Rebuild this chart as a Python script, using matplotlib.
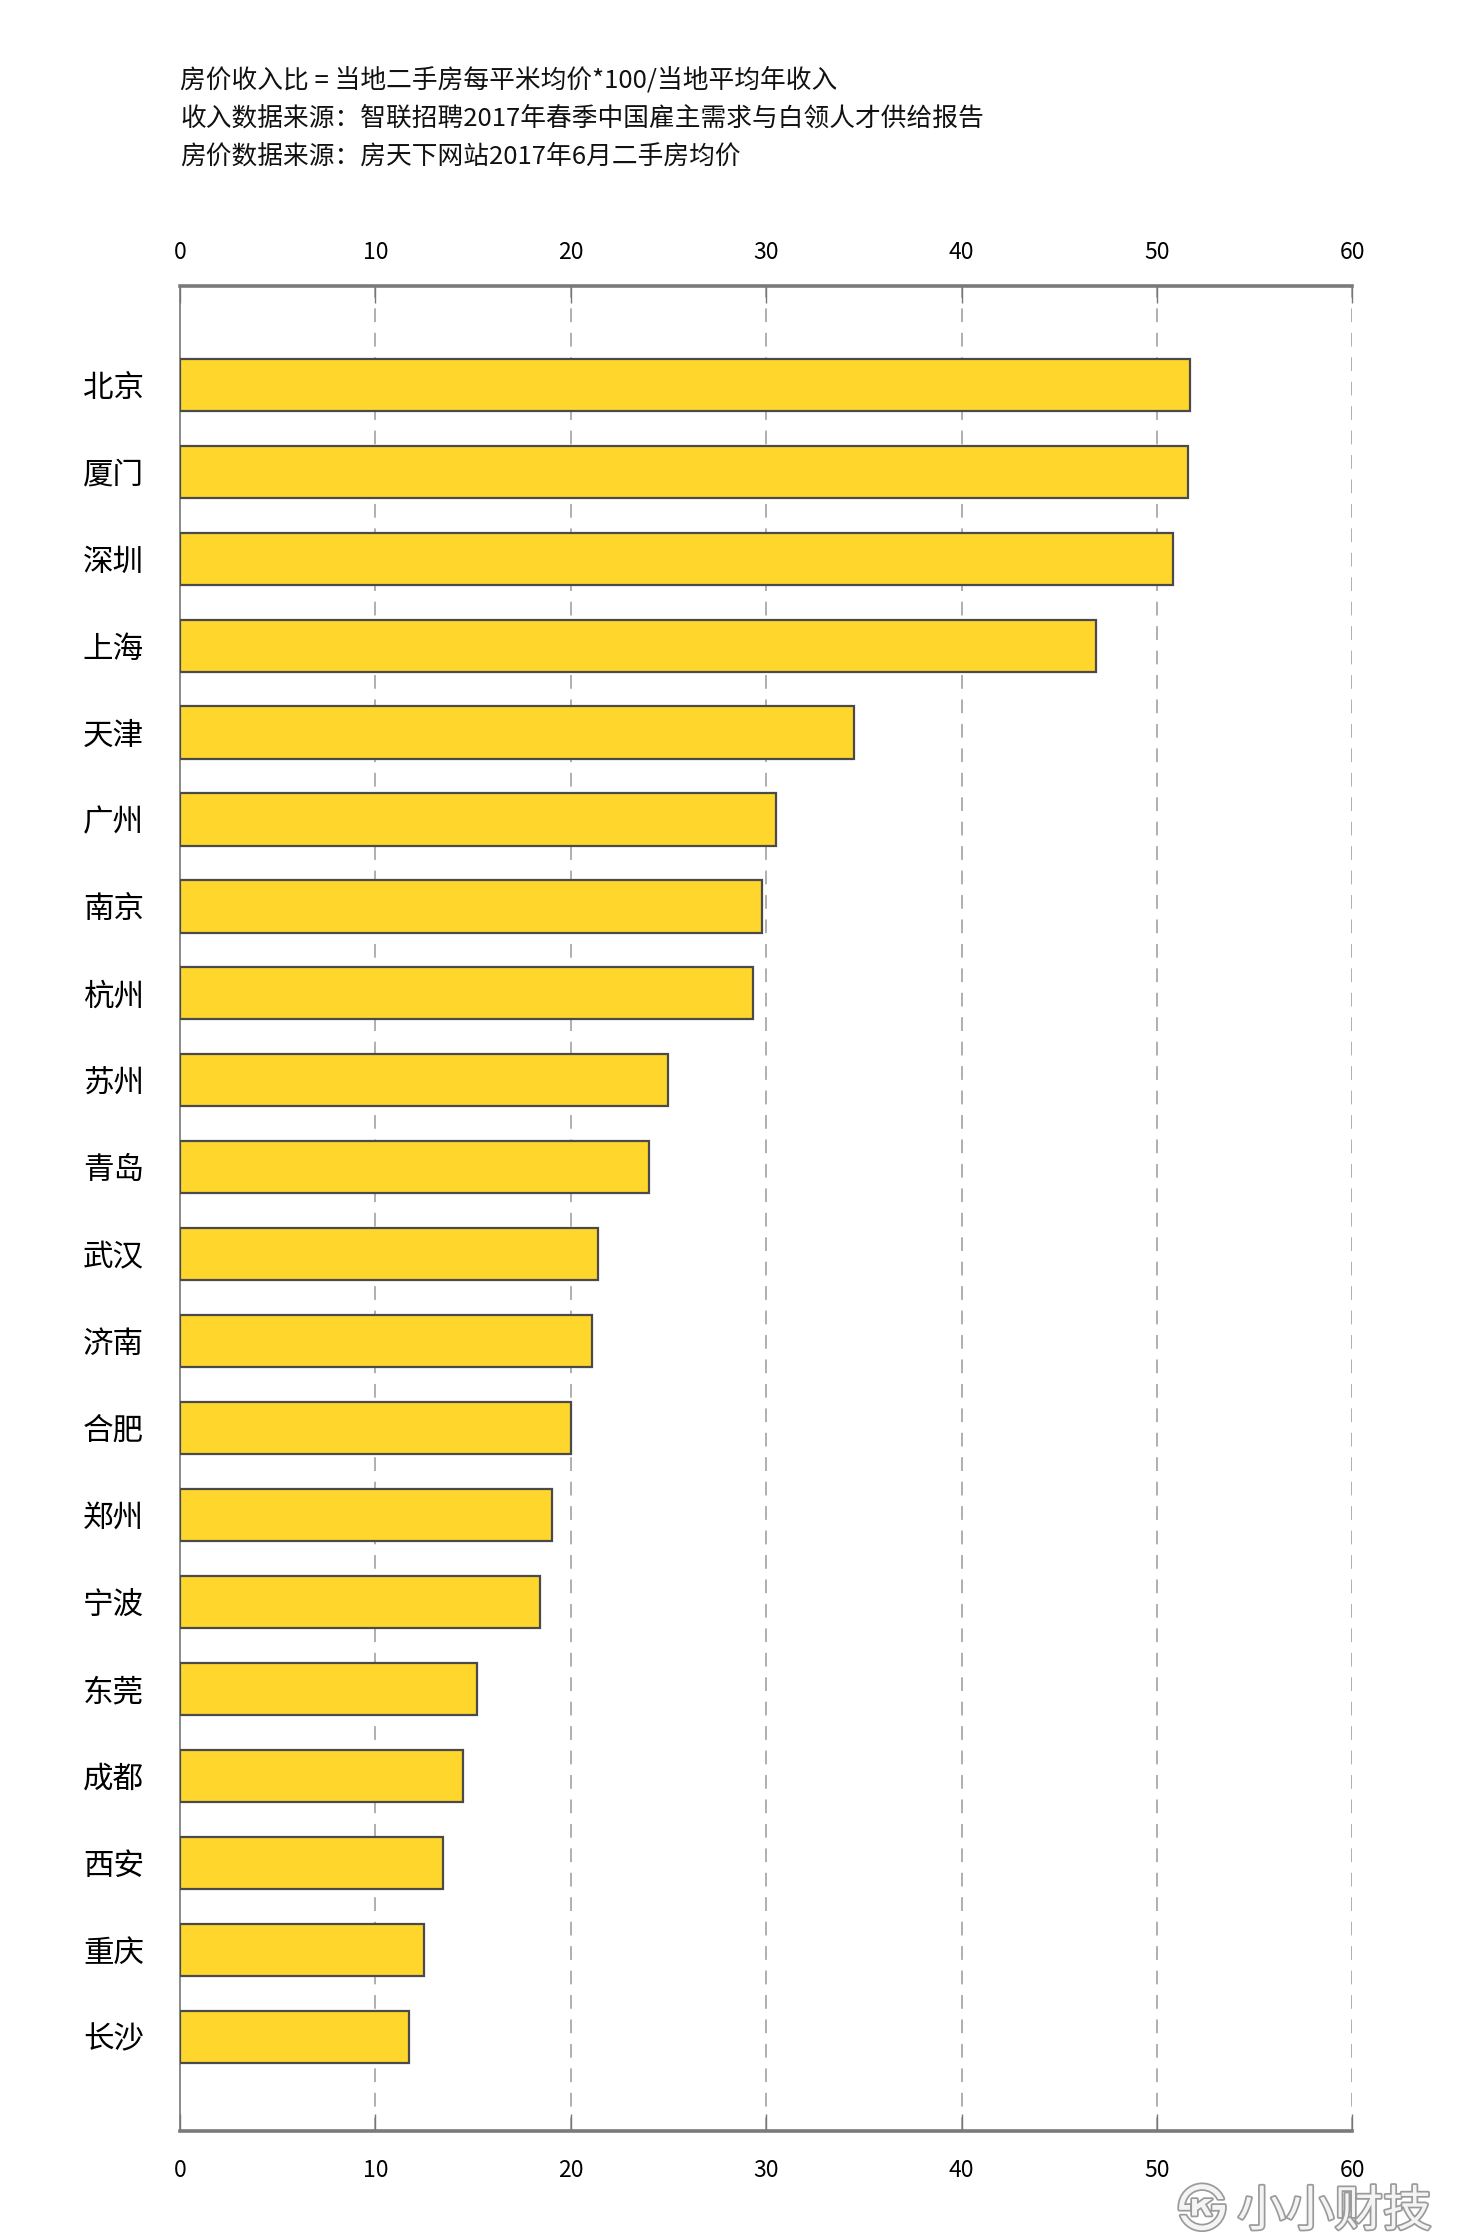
import matplotlib
matplotlib.use("Agg")
import matplotlib.pyplot as plt
import matplotlib.patheffects as pe
import matplotlib.transforms as mtransforms

plt.rcParams['font.family'] = ['Noto Sans CJK SC', 'DejaVu Sans']

cities = ["北京", "厦门", "深圳", "上海", "天津", "广州", "南京", "杭州", "苏州", "青岛",
          "武汉", "济南", "合肥", "郑州", "宁波", "东莞", "成都", "西安", "重庆", "长沙"]
ratios = [51.7, 51.6, 50.8, 46.9, 34.5, 30.5, 29.8, 29.35, 24.95, 24.0,
          21.4, 21.1, 20.0, 19.05, 18.4, 15.2, 14.5, 13.45, 12.5, 11.7]
xticks = [0, 10, 20, 30, 40, 50, 60]
notes = ["房价收入比 = 当地二手房每平米均价*100/当地平均年收入",
         "收入数据来源：智联招聘2017年春季中国雇主需求与白领人才供给报告",
         "房价数据来源：房天下网站2017年6月二手房均价"]
watermark = "小小财技"

fig = plt.figure(figsize=(14.58, 22.40), dpi=100)
ax = fig.add_axes([0.1235, 0.0488, 0.8040, 0.8233])

y = list(range(len(cities)))
ax.barh(y, ratios, height=0.6, color="#FFD62C", edgecolor="#4a4a4a", linewidth=1.6, zorder=3)

ax.set_xlim(0, 60)
ax.set_ylim(len(cities) - 1 + 1.08, -1.13)
ax.set_xticks(xticks)
ax.set_xticklabels([str(t) for t in xticks])
ax.set_yticks(y)
ax.set_yticklabels(cities, fontsize=22)

for gx in xticks[1:]:
    ax.axvline(gx, color="#9a9a9a", linestyle=(0, (9, 7)), linewidth=1.1, zorder=1)

ax.tick_params(axis='x', which='both', top=True, bottom=True, labeltop=True, labelbottom=True,
               direction='in', length=12, width=1, color="#777777", labelsize=16.5, pad=16)
ax.tick_params(axis='y', length=0, pad=26)

offset = mtransforms.ScaledTranslation(0, -6 / 100, fig.dpi_scale_trans)
for tk in ax.xaxis.get_major_ticks():
    tk.label1.set_transform(tk.label1.get_transform() + offset)

for s in ['top', 'bottom']:
    ax.spines[s].set_color("#7a7a7a")
    ax.spines[s].set_linewidth(2.6)
ax.spines['left'].set_color("#777777")
ax.spines['left'].set_linewidth(1.2)
ax.spines['right'].set_visible(False)

ys = [0.964, 0.947, 0.930]
for t, yy in zip(notes, ys):
    fig.text(0.1235, yy, t, fontsize=18.5, ha='left', va='center', color="#111111")

fig.text(0.982, 0.0125, "㉿ " + watermark, fontsize=35, ha='right', va='center', color="#f4f4f4",
         family=['Noto Sans CJK SC', 'DejaVu Sans'],
         path_effects=[pe.withStroke(linewidth=2.5, foreground="#9a9a9a")])

fig.savefig("out.png", dpi=100, facecolor="white")
